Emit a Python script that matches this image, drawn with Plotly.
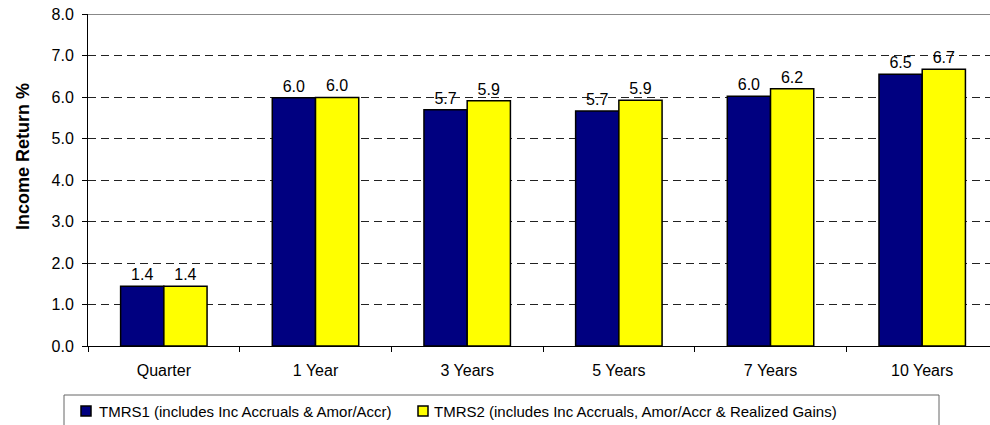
import plotly.graph_objects as go

categories = ["Quarter", "1 Year", "3 Years", "5 Years", "7 Years", "10 Years"]
tmrs1 = [1.44, 5.98, 5.69, 5.66, 6.02, 6.55]
tmrs2 = [1.44, 5.99, 5.91, 5.92, 6.20, 6.67]
name1 = "TMRS1 (includes Inc Accruals & Amor/Accr)"
name2 = "TMRS2 (includes Inc Accruals, Amor/Accr & Realized Gains)"
colors = ["#000080", "#FFFF00"]
yticks = [0, 1, 2, 3, 4, 5, 6, 7, 8]
ytitle = "Income Return %"

font = "Liberation Sans, Arial, sans-serif"

# body margin is removed in the page, so figure fills the window
W, H = 990, 425
L, R, T, B = 88, 0, 14, 79
PW, PH = W - L - R, H - T - B


def px(x):
    return (x - L) / PW


def py(y):
    return (H - B - y) / PH


fig = go.Figure()
for vals, name, col in [(tmrs1, name1, colors[0]), (tmrs2, name2, colors[1])]:
    fig.add_trace(go.Bar(x=categories, y=vals, name=name,
                         marker=dict(color=col, line=dict(color="black", width=1.5)),
                         text=[f"{v:.1f}" for v in vals], textposition="outside",
                         textfont=dict(size=16, color="black", family=font),
                         cliponaxis=False, showlegend=False))

fig.update_layout(
    width=W, height=H,
    margin=dict(l=L, r=R, t=T, b=B, autoexpand=False),
    paper_bgcolor="white", plot_bgcolor="white",
    barmode="group", bargap=0.43, bargroupgap=0,
    font=dict(family=font, size=16, color="black"),
    showlegend=False,
)
fig.update_xaxes(range=[-0.5, 5.447], showline=True, linecolor="black", linewidth=1,
                 ticks="outside", tickson="boundaries", ticklen=5, tickcolor="black",
                 showgrid=False, tickfont=dict(size=16), automargin=False,
                 ticklabelstandoff=10)
fig.update_yaxes(range=[0, 8], tickvals=yticks, tickformat=".1f", showline=True,
                 linecolor="black", linewidth=1, ticks="outside", ticklen=5, tickcolor="black",
                 showgrid=True, gridcolor="#222222", griddash="8px,5px", gridwidth=1,
                 zeroline=False, tickfont=dict(size=16), automargin=False,
                 ticklabelstandoff=5, ticklabeloverflow="allow")

# top border of plot area
fig.add_shape(type="line", xref="paper", yref="y", x0=0, x1=1, y0=8, y1=8,
              line=dict(color="#888888", width=2))

# y-axis title
fig.add_annotation(text=f"<b>{ytitle}</b>", xref="paper", yref="paper",
                   x=px(23), y=py(157), textangle=-90, showarrow=False,
                   xanchor="center", yanchor="middle", font=dict(size=18, family=font))

# legend (box, swatches, labels)
fig.add_shape(type="rect", xref="paper", yref="paper",
              x0=px(64), x1=px(939), y0=py(395), y1=py(430),
              line=dict(color="#666666", width=1), fillcolor="white", layer="below")
for (sx, tx), name, col in [((81, 97), name1, colors[0]), ((418, 432), name2, colors[1])]:
    fig.add_shape(type="rect", xref="paper", yref="paper",
                  x0=px(sx), x1=px(sx + 10), y0=py(406), y1=py(416),
                  line=dict(color="black", width=1.5), fillcolor=col)
    fig.add_annotation(text=name, xref="paper", yref="paper", x=px(tx), y=py(411),
                       xanchor="left", yanchor="middle", showarrow=False,
                       font=dict(size=15, family=font))

fig.write_html("out.html", config={"displayModeBar": False},
               post_script="document.body.style.margin='0';document.body.style.overflow='hidden';")
